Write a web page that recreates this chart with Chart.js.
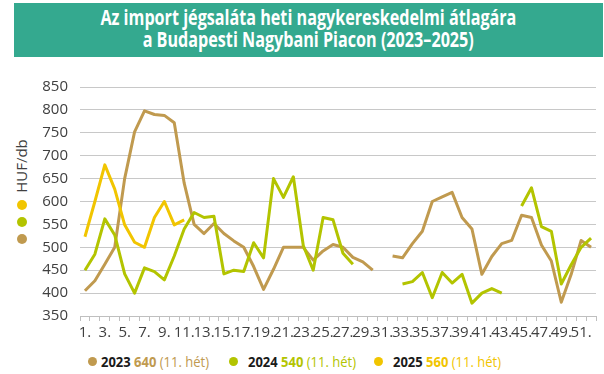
<!DOCTYPE html>
<html><head><meta charset="utf-8">
<script src="https://cdn.jsdelivr.net/npm/chart.js@4/dist/chart.umd.min.js"></script>
<style>
html,body{margin:0;padding:0;background:#fff;width:604px;height:374px;overflow:hidden;position:relative;font-family:'Open Sans',sans-serif}
#banner{position:absolute;left:14px;top:3px;width:589px;height:54px;background:#34A98F}
.tlw{position:absolute;left:0;width:616px;text-align:center;white-space:nowrap}
.tl{display:inline-block;color:#fff;font-weight:700;font-size:21px;line-height:22px;transform-origin:center}
#chartBox{position:absolute;left:0;top:66px;width:604px;height:278px}
#unit{position:absolute;left:21px;top:166px;transform:translate(-50%,-50%) rotate(-90deg);font-size:15px;color:#404040;white-space:nowrap;line-height:16px}
.sdot{position:absolute;width:10px;height:10px;border-radius:50%}
.leg{position:absolute;top:352px;white-space:nowrap;font-size:15px;line-height:18px}
.leg .d{position:absolute;top:5px;width:9px;height:9px;border-radius:50%}
.leg .t{position:absolute;display:inline-block;transform-origin:left center}
.yr{font-weight:700;color:#1a1a1a}
.val{font-weight:700}
</style>
</head><body>
<div id="banner"></div>
<div class="tlw" style="top:6px"><span class="tl" id="t1">Az import jégsaláta heti nagykereskedelmi átlagára</span></div>
<div class="tlw" style="top:28px"><span class="tl" id="t2">a Budapesti Nagybani Piacon (2023–2025)</span></div>
<div id="unit">HUF/db</div>
<div class="sdot" style="left:17px;top:200px;background:#F1C500"></div>
<div class="sdot" style="left:17px;top:217px;background:#B3C400"></div>
<div class="sdot" style="left:17px;top:234px;background:#C09A4F"></div>
<div id="chartBox"><canvas id="c"></canvas></div>
<div id="legend"></div>
<script>
const weeks = ['1.','2.','3.','4.','5.','6.','7.','8.','9.','10.','11.','12.','13.','14.','15.','16.','17.','18.','19.','20.','21.','22.','23.','24.','25.','26.','27.','28.','29.','30.','31.','32.','33.','34.','35.','36.','37.','38.','39.','40.','41.','42.','43.','44.','45.','46.','47.','48.','49.','50.','51.','52.'];
const yTicks = [350,400,450,500,550,600,650,700,750,800,850];
const y2023 = [405,427,463,500,650,752,798,790,788,772,640,550,530,552,530,514,500,458,408,452,500,500,500,472,492,506,500,478,468,450,null,481,477,508,535,600,610,620,565,540,441,480,508,515,570,565,505,470,380,441,515,500];
const y2024 = [450,485,562,527,442,400,455,447,429,481,540,576,565,568,442,450,447,510,477,650,609,654,504,450,565,560,487,463,null,null,null,null,420,425,445,390,445,422,441,378,400,410,400,null,590,630,545,535,420,462,500,520];
const y2025 = [523,600,680,627,549,511,500,565,600,549,560,null,null,null,null,null,null,null,null,null,null,null,null,null,null,null,null,null,null,null,null,null,null,null,null,null,null,null,null,null,null,null,null,null,null,null,null,null,null,null,null,null];
const seriesNames = ['2023','2024','2025'];
const legendValues = ['640','540','560'];
const legendWeek = '(11. hét)';
const colors = ['#C09A4F','#B3C400','#F1C500'];

const NARROW = "'Liberation Sans Narrow','Open Sans',sans-serif";

// title fit
(function(){
  const t1=document.getElementById('t1'), t2=document.getElementById('t2');
  const w1=t1.getBoundingClientRect().width;
  const s=416/w1;
  t1.style.transform='scaleX('+s+')';
  t2.style.transform='scaleX('+s+')';
})();

// legend
(function(){
  const L=document.getElementById('legend');
  const dotX=[88,229,374];
  seriesNames.forEach((n,i)=>{
    const item=document.createElement('div');
    item.className='leg';
    item.style.left=dotX[i]+'px';
    const d=document.createElement('span');d.className='d';d.style.left='0px';d.style.background=colors[i];
    const t=document.createElement('span');t.className='t';t.style.left=(i===0?13:19)+'px';
    t.innerHTML='<span class="yr">'+n+'</span> <span class="val" style="color:'+colors[i]+'">'+legendValues[i]+'</span> <span style="color:'+colors[i]+'">'+legendWeek+'</span>';
    item.appendChild(d);item.appendChild(t);L.appendChild(item);
    const w=t.getBoundingClientRect().width;
    t.style.transform='scaleX('+(108/w)+')';
  });
  const u=document.getElementById('unit');
})();

const ctx=document.getElementById('c').getContext('2d');
new Chart(ctx,{
  type:'line',
  data:{labels:weeks,datasets:[
    {label:seriesNames[0],data:y2023,borderColor:colors[0],order:3},
    {label:seriesNames[1],data:y2024,borderColor:colors[1],order:2},
    {label:seriesNames[2],data:y2025,borderColor:colors[2],order:1}
  ]},
  options:{
    responsive:true,maintainAspectRatio:false,animation:false,
    layout:{padding:{top:16,right:8,left:0,bottom:0}},
    plugins:{legend:{display:false},tooltip:{enabled:false}},
    spanGaps:false,
    elements:{point:{radius:0},line:{borderWidth:3,tension:0,borderJoinStyle:'round',fill:false}},
    scales:{
      x:{offset:true,
         grid:{offset:true,drawOnChartArea:false,drawTicks:true,tickLength:5,color:'#BFBFBF'},
         border:{display:true,color:'#BFBFBF'},
         ticks:{autoSkip:false,maxRotation:0,minRotation:0,padding:3,color:'#404040',font:{family:NARROW,size:15},
                callback:(v,i)=> i%2===0 ? weeks[i] : ''},
         afterFit:s=>{s.height=28;}},
      y:{min:yTicks[0],max:yTicks[yTicks.length-1],
         afterBuildTicks:s=>{s.ticks=yTicks.map(v=>({value:v}));},
         ticks:{padding:12,color:'#404040',font:{family:NARROW,size:15}},
         grid:{color:'#C8C8C8',drawTicks:false},
         border:{display:false},
         afterFit:s=>{s.width=80;}}
    }
  }
});
</script>
</body></html>
